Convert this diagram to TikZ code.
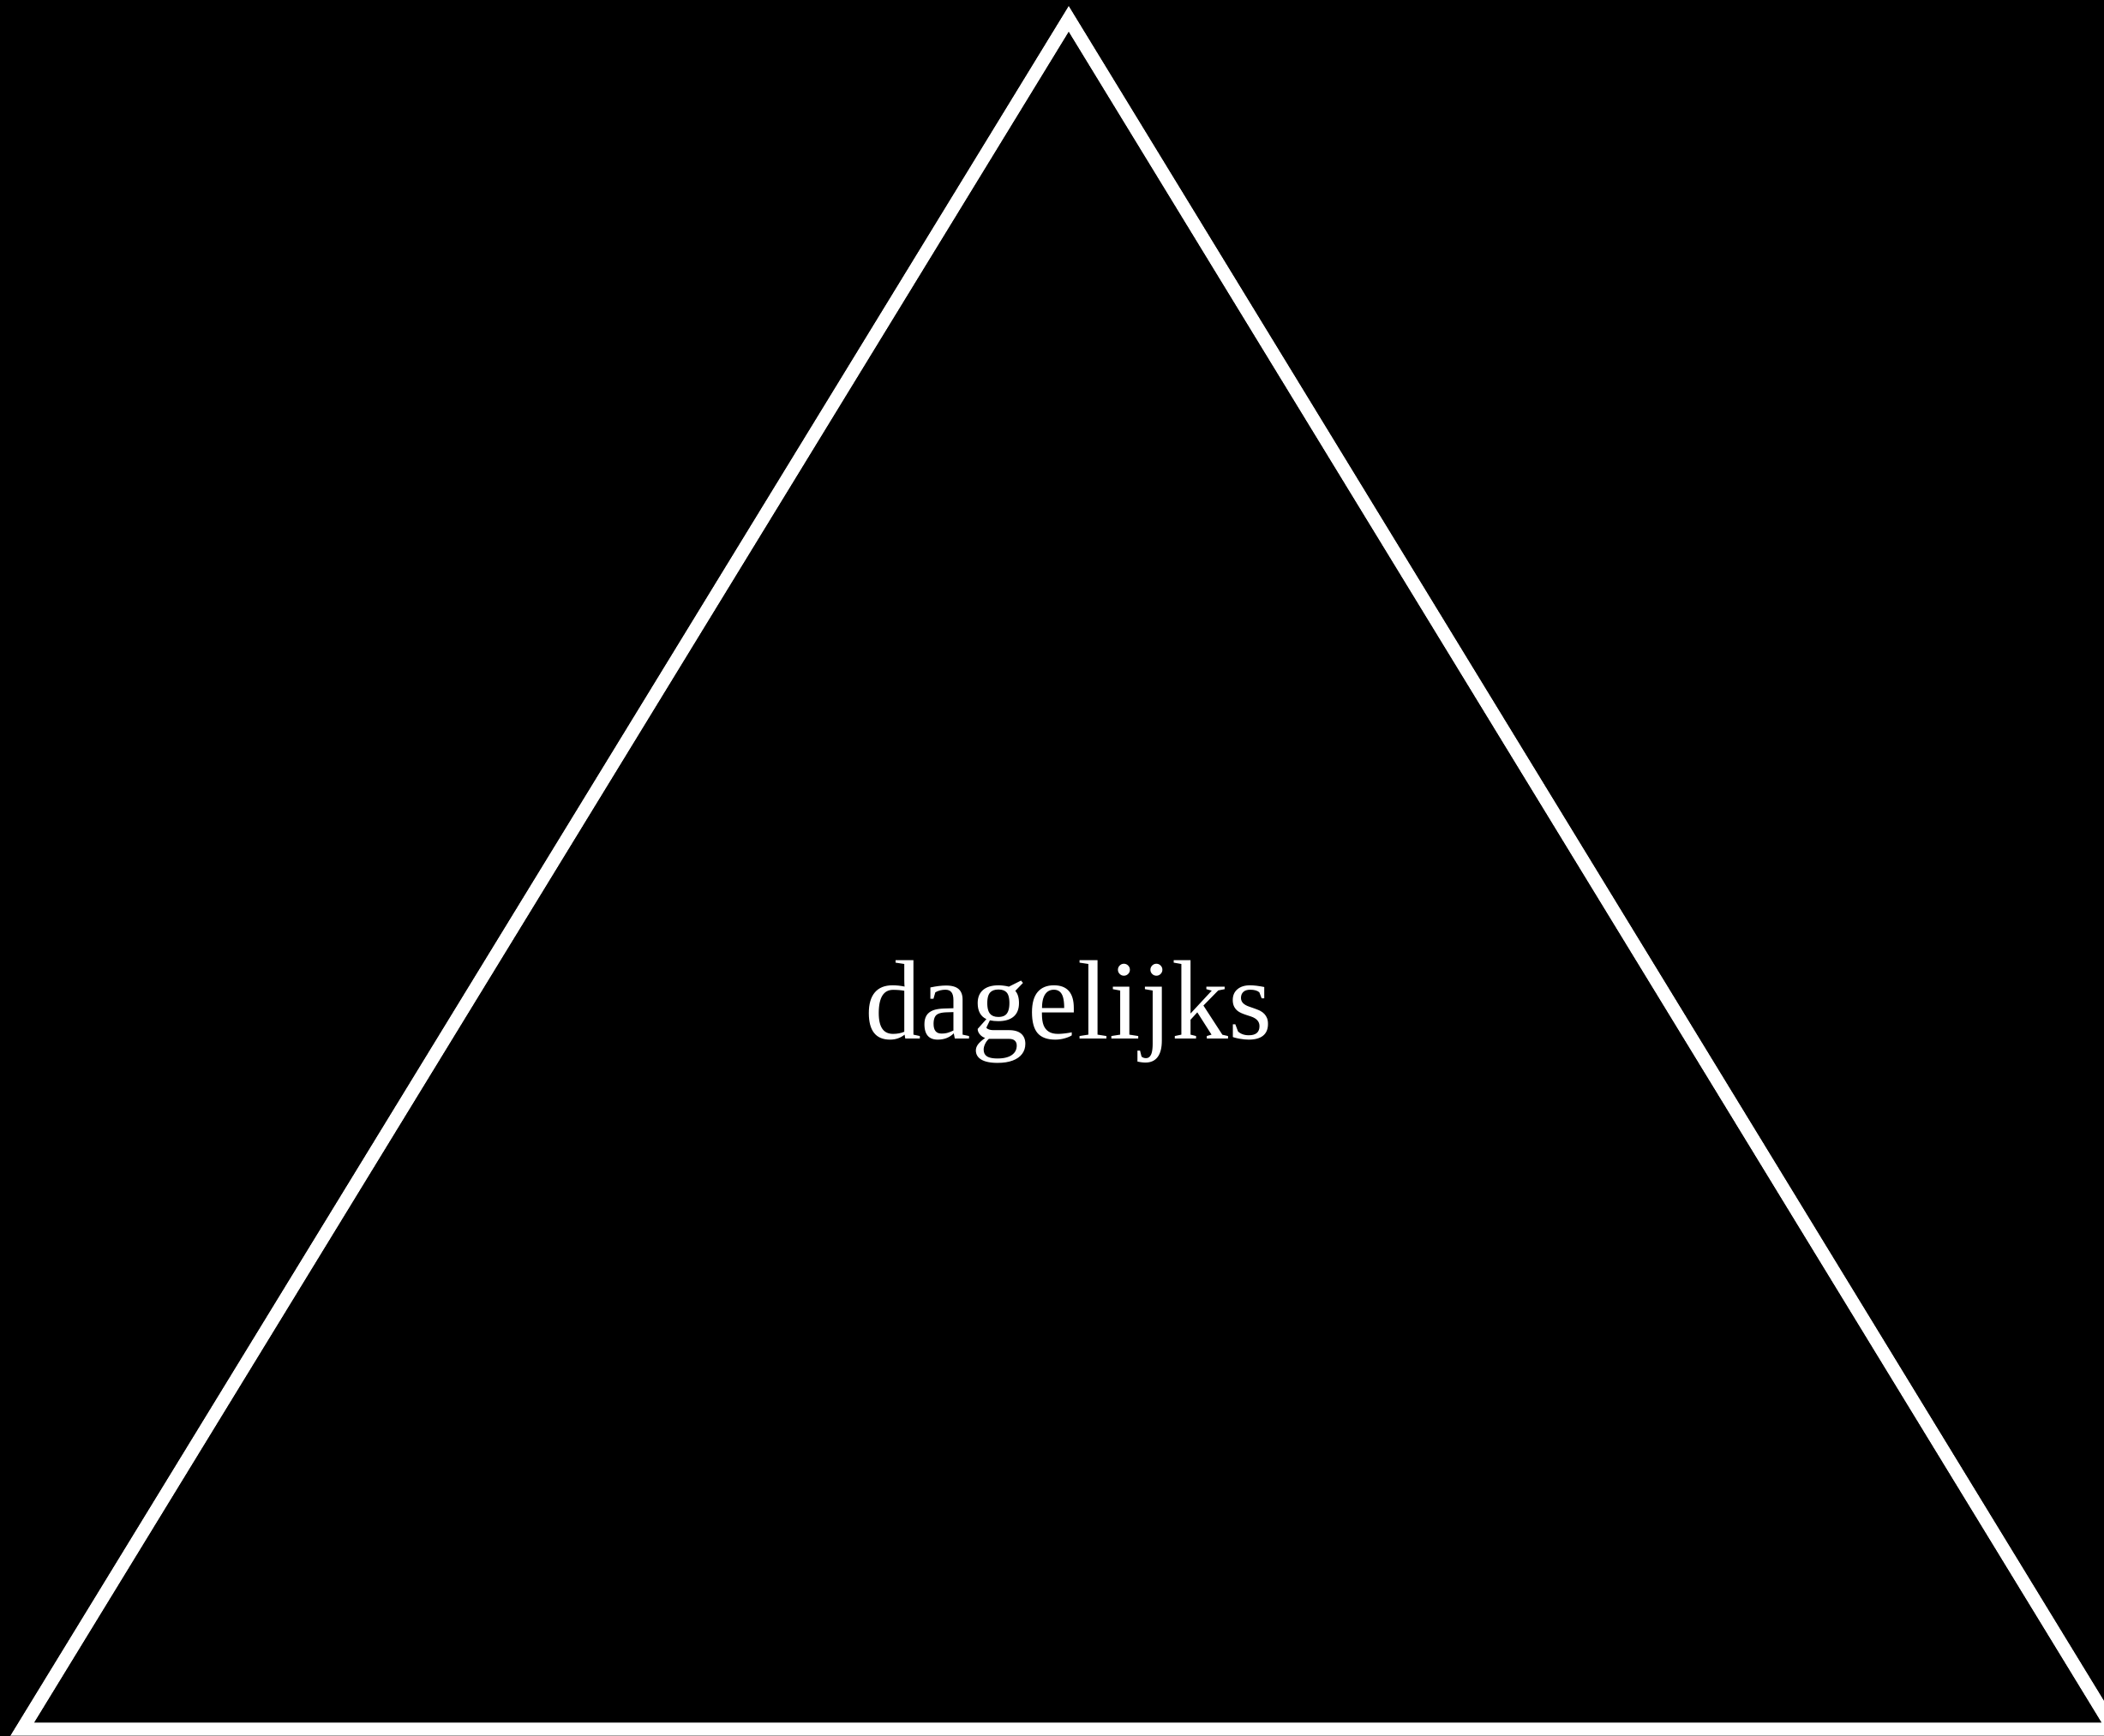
\documentclass[tikz,border=0pt]{standalone}
\usepackage{fontspec}
\setmainfont{Liberation Serif}
\begin{document}
\begin{tikzpicture}[
  rand/.style={draw=white, line width=4.4pt, line join=miter},
  woord/.style={text=white, font=\fontsize{37.5}{40}\selectfont, anchor=base,
                inner sep=0pt}
]
  % Achtergrond
  \fill[black] (0,0) rectangle (24.55,20.26);
  \useasboundingbox (0,0) rectangle (24.55,20.26);

  % Driehoek
  \coordinate (top) at (12.47,20.04);
  \coordinate (links) at (0.26,0.08);
  \coordinate (rechts) at (24.66,0.08);
  \draw[rand] (links) -- (top) -- (rechts) -- cycle;

  % Tekst
  \node[woord] (dag) at (12.47,8.13) {dagelijks};
\end{tikzpicture}
\end{document}
